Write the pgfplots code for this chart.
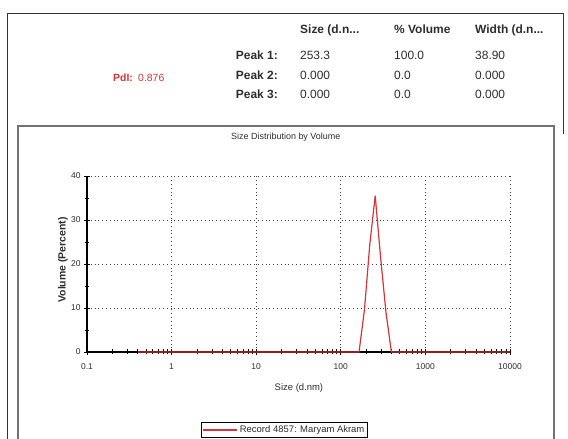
\documentclass[border=0pt]{standalone}
\usepackage{pgfplots}
\pgfplotsset{compat=1.18}
\usepackage{fontspec}
\setmainfont{Liberation Sans}
\definecolor{zred}{RGB}{214,52,56}
\definecolor{txt}{RGB}{45,45,45}

\begin{document}
\begin{tikzpicture}[x=1bp,y=1bp]
\useasboundingbox (0,0) rectangle (568,439);

% frames
\draw[black!80, line width=0.9bp] (7,0) -- (7,426) -- (563,426) -- (563,305);
\draw[black!55, line width=1.6bp] (18,0) -- (18,313) -- (554,313) -- (554,0);

% results table
\begin{scope}[every node/.style={text=txt, inner sep=0pt, font=\fontsize{12}{14}\selectfont}]
  \node[anchor=base west, font=\fontsize{12}{14}\selectfont\bfseries] at (300,405) {Size (d.n...};
  \node[anchor=base west, font=\fontsize{12}{14}\selectfont\bfseries] at (394,405) {\% Volume};
  \node[anchor=base west, font=\fontsize{12}{14}\selectfont\bfseries] at (475,405) {Width (d.n...};
  \node[anchor=base east, font=\fontsize{12}{14}\selectfont\bfseries] at (278,379) {Peak 1:};
  \node[anchor=base east, font=\fontsize{12}{14}\selectfont\bfseries] at (278,359) {Peak 2:};
  \node[anchor=base east, font=\fontsize{12}{14}\selectfont\bfseries] at (278,340) {Peak 3:};
  \node[anchor=base west] at (300,379) {253.3};
  \node[anchor=base west] at (394,379) {100.0};
  \node[anchor=base west] at (475,379) {38.90};
  \node[anchor=base west] at (300,359) {0.000};
  \node[anchor=base west] at (394,359) {0.0};
  \node[anchor=base west] at (475,359) {0.000};
  \node[anchor=base west] at (300,340) {0.000};
  \node[anchor=base west] at (394,340) {0.0};
  \node[anchor=base west] at (475,340) {0.000};
  \node[anchor=base west, text=zred, font=\fontsize{10.5}{12}\selectfont\bfseries] at (113,357) {PdI:};
  \node[anchor=base west, text=zred, font=\fontsize{10.5}{12}\selectfont] at (138,357) {0.876};
\end{scope}

\begin{axis}[
    at={(87bp,87bp)}, anchor=south west,
    scale only axis, width=423bp, height=176bp,
    xmode=log, xmin=0.1, xmax=10000,
    ymin=0, ymax=40,
    ytick={0,10,20,30,40}, minor ytick={5,15,25,35},
    xtick={0.1,1,10,100,1000,10000},
    xticklabels={0.1,1,10,100,1000,10000},
    axis lines*=left,
    axis line style={black, line width=1.2bp},
    tick align=center,
    major tick length=6bp, minor tick length=5bp,
    every tick/.style={black, line width=0.9bp},
    xmajorgrids, ymajorgrids,
    grid style={black!75, line width=0.8bp, dash pattern=on 0.8bp off 3bp},
    tick label style={font=\fontsize{8.5}{9}\selectfont, text=txt},
    /pgf/number format/assume math mode=true,
    xticklabel style={yshift=-5bp},
    clip=false,
    title={Size Distribution by Volume},
    title style={at={(axis description cs:0.470,1.1875)}, anchor=center,
                 font=\fontsize{9}{10}\selectfont, text=txt},
    xlabel={Size (d.nm)},
    xlabel style={at={(axis description cs:0.501,-0.2045)}, anchor=center,
                  font=\fontsize{9.5}{10}\selectfont, text=txt},
    ylabel={Volume (Percent)},
    ylabel style={at={(axis description cs:-0.0567,0.523)}, anchor=center,
                  font=\fontsize{10.5}{11}\selectfont\bfseries, text=txt},
    legend style={at={(axis description cs:0.467,-0.443)}, anchor=center,
                  draw=black, line width=0.9bp, inner sep=1.5bp,
                  font=\fontsize{9.5}{10}\selectfont, text=txt,
                  /tikz/every even column/.append style={column sep=4bp}},
    legend image code/.code={\draw[#1] (0bp,0bp) -- (34bp,0bp);},
]
\addplot[zred, line width=1.2bp] coordinates {
(0.3994,0) (0.4632,0) (0.5365,0) (0.6213,0) (0.7195,0) (0.8332,0) (0.9649,0)
(1.117,0) (1.294,0) (1.499,0) (1.736,0) (2.010,0) (2.328,0) (2.696,0) (3.122,0)
(3.615,0) (4.187,0) (4.849,0) (5.615,0) (6.503,0) (7.531,0) (8.721,0) (10.10,0)
(11.70,0) (13.54,0) (15.69,0) (18.17,0) (21.04,0) (24.36,0) (28.21,0) (32.67,0)
(37.84,0) (43.82,0) (50.75,0) (58.77,0) (68.06,0) (78.82,0) (91.28,0) (105.7,0)
(122.4,0) (141.8,0) (164.2,0) (190.1,9.5) (220.2,24.5) (255.0,35.5) (295.3,21.5)
(342.0,9.0) (396.1,0) (458.7,0) (531.2,0) (615.1,0) (712.4,0) (825.0,0) (955.4,0)
(1106,0) (1281,0) (1484,0) (1718,0) (1990,0) (2305,0) (2669,0) (3091,0) (3580,0)
(4145,0) (4801,0) (5560,0) (6439,0) (7456,0) (8635,0) (10000,0)
};
\legend{Record 4857: Maryam Akram}
\end{axis}
\end{tikzpicture}
\end{document}
